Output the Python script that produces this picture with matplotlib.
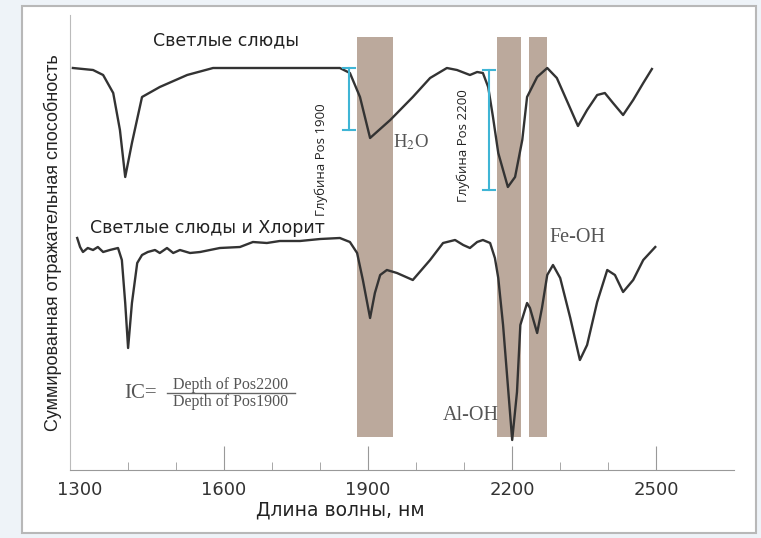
import matplotlib.pyplot as plt
from matplotlib.patches import Rectangle

plt.rcParams['font.family'] = ['DejaVu Sans']
plt.rcParams['mathtext.fontset'] = 'stix'

# Спектры (длина волны, нм / относительная отражательная способность)
upper_nm = [1285, 1327, 1348, 1369, 1383, 1394, 1408, 1429, 1466, 1523, 1577,
            1841, 1862, 1883, 1904, 1946, 1993, 2029, 2064, 2085, 2112, 2127,
            2139, 2150, 2160, 2171, 2191, 2206, 2221, 2231, 2252, 2273, 2293,
            2316, 2337, 2356, 2377, 2393, 2410, 2431, 2452, 2473, 2491]
upper_val = [402, 400, 395, 377, 340, 293, 327, 373, 383, 395, 402,
             402, 397, 373, 332, 350, 373, 392, 402, 400, 395, 398,
             397, 383, 353, 317, 283, 293, 330, 373, 393, 402, 392,
             367, 344, 360, 375, 377, 367, 355, 370, 387, 401]

lower_nm = [1294, 1300, 1306, 1316, 1327, 1337, 1348, 1362, 1379, 1387, 1394,
            1400, 1408, 1419, 1429, 1441, 1456, 1466, 1481, 1494, 1508, 1529,
            1550, 1591, 1633, 1660, 1689, 1716, 1758, 1800, 1841, 1862, 1877,
            1889, 1904, 1914, 1925, 1939, 1960, 1993, 2029, 2056, 2081, 2098,
            2112, 2127, 2139, 2154, 2164, 2171, 2181, 2200, 2210, 2217, 2231,
            2237, 2252, 2262, 2273, 2285, 2300, 2321, 2341, 2356, 2377, 2398,
            2414, 2431, 2452, 2473, 2498]
lower_val = [232, 223, 218, 222, 220, 223, 218, 220, 222, 210, 167,
             122, 167, 207, 215, 218, 220, 217, 222, 217, 220, 217,
             218, 222, 223, 228, 227, 229, 229, 231, 232, 228, 217,
             190, 152, 177, 195, 200, 197, 190, 210, 227, 230, 225,
             222, 228, 230, 227, 212, 192, 145, 30, 78, 145, 167,
             162, 137, 162, 195, 205, 192, 152, 110, 125, 168, 200,
             195, 178, 190, 210, 223]

bands = [(1877, 1952), (2169, 2219), (2235, 2273)]
xticks_major = [1300, 1600, 1900, 2200, 2500]
xticks_minor = [1400, 1500, 1700, 1800, 2000, 2100, 2300, 2400]

fig = plt.figure(figsize=(7.61, 5.38), dpi=100, facecolor='#eef3f8')
fig.patches.append(Rectangle((22 / 761, 5 / 538), 734 / 761, 527 / 538,
                             transform=fig.transFigure, facecolor='white',
                             edgecolor='#b8b8b8', lw=1.5, zorder=-5))

ax = fig.add_axes((70 / 761, 68 / 538, 664 / 761, 455 / 538))
ax.set_zorder(5)
ax.patch.set_alpha(0)
ax.set_xlim(1279, 2662)
ax.set_ylim(0, 455)

# полосы поглощения
for x0, x1 in bands:
    ax.fill_between([x0, x1], 33, 433, color='#bba99c', lw=0, zorder=1)

ax.plot(upper_nm, upper_val, color='#333333', lw=1.7, zorder=2)
ax.plot(lower_nm, lower_val, color='#333333', lw=1.7, zorder=2)

# глубина полос
cyan = '#3fb5d5'
for x, y0, y1 in [(1860, 402, 340), (2152, 400, 280)]:
    ax.plot([x, x], [y0, y1], color=cyan, lw=1.5, zorder=3)
    for y in (y0, y1):
        ax.plot([x - 12, x + 12], [y, y], color=cyan, lw=1.5, zorder=3)

ax.text(1604, 430, 'Светлые слюды', fontsize=12.5, ha='center', va='center',
        color='#222222')
ax.text(1321, 242, 'Светлые слюды и Хлорит', fontsize=12.5, ha='left',
        va='center', color='#222222')
ax.text(1802, 310, 'Глубина Pos 1900', fontsize=9.5, rotation=90, ha='center',
        va='center', color='#222222', family=['Open Sans', 'DejaVu Sans'])
ax.text(2098, 324, 'Глубина Pos 2200', fontsize=9.5, rotation=90, ha='center',
        va='center', color='#222222', family=['Open Sans', 'DejaVu Sans'])

serif = ['Liberation Serif', 'DejaVu Serif']
ax.text(1952, 328, r'H$_2$O', fontsize=13.5, color='#555555', family=serif,
        ha='left', va='center')
ax.text(2277, 233, 'Fe-OH', fontsize=14.5, color='#555555', family=serif,
        ha='left', va='center')
ax.text(2056, 54, 'Al-OH', fontsize=14.5, color='#555555', family=serif,
        ha='left', va='center')

# формула IC
ax.text(1391, 77, 'IC=', fontsize=15, color='#555555', family=serif,
        ha='left', va='center')
ax.text(1614, 85, 'Depth of Pos2200', fontsize=11.5, color='#555555',
        family=serif, ha='center', va='center')
ax.text(1614, 68, 'Depth of Pos1900', fontsize=11.5, color='#555555',
        family=serif, ha='center', va='center')
ax.plot([1481, 1748], [77, 77], color='#666666', lw=1)

for s in ['top', 'right']:
    ax.spines[s].set_visible(False)
ax.spines['left'].set_color('#bbbbbb')
ax.spines['bottom'].set_color('#999999')
ax.set_yticks([])
ax.set_xticks(xticks_major)
ax.set_xticks(xticks_minor, minor=True)
ax.tick_params(axis='x', which='major', direction='in', length=17, color='#999999',
               labelsize=13, labelcolor='#333333', pad=8)
ax.tick_params(axis='x', which='minor', direction='in', length=6, color='#999999')
ax.xaxis.get_major_ticks()[0].tick1line.set_visible(False)
ax.set_xlabel('Длина волны, нм', fontsize=13.5, color='#222222')
ax.xaxis.set_label_coords(0.407, -0.068)
ax.set_ylabel('Суммированная отражательная способность', fontsize=13,
              color='#222222', labelpad=6, family=['Liberation Sans', 'DejaVu Sans'])

fig.savefig('out.png', dpi=100, facecolor=fig.get_facecolor())
